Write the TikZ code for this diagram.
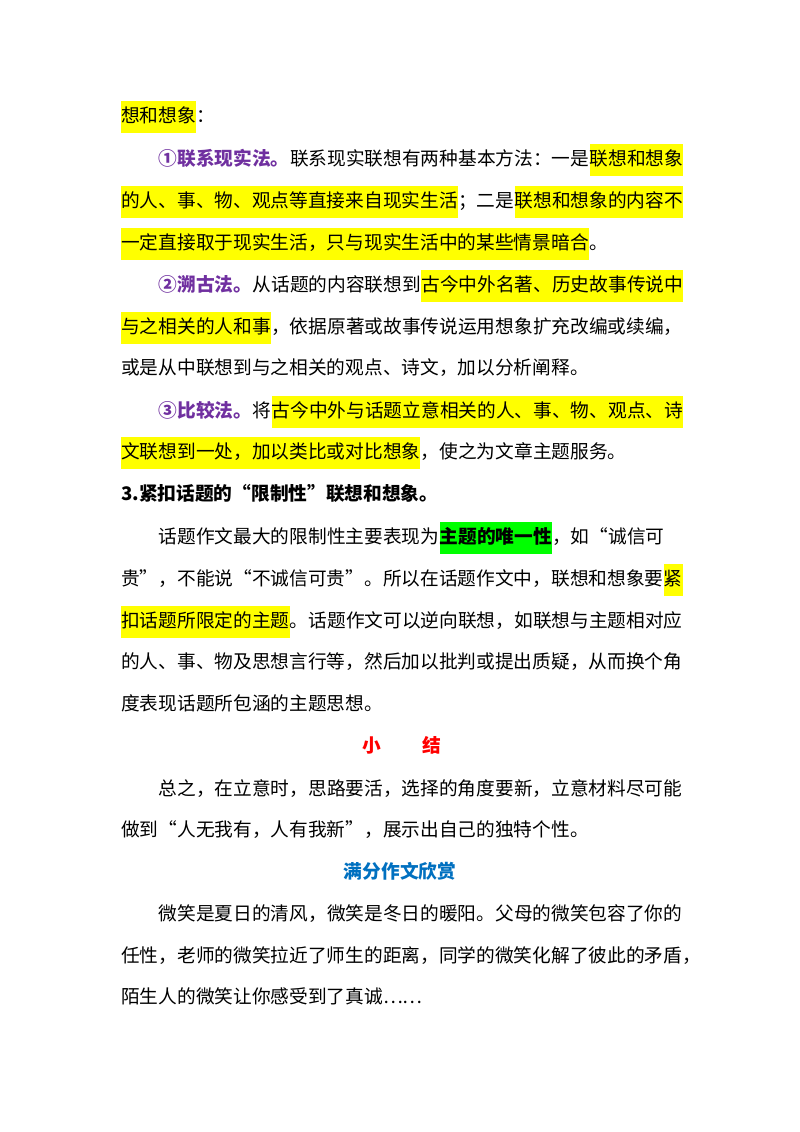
\documentclass[tikz,border=0pt]{standalone}
\usepackage{fontspec}
\newfontfamily\cjk{Noto Sans CJK SC}
\definecolor{hlY}{HTML}{FFFF00}
\definecolor{hlG}{HTML}{00FF00}
\definecolor{pur}{HTML}{7030A0}
\definecolor{ttlblue}{HTML}{0070C0}
\begin{document}
\begin{tikzpicture}[x=1pt,y=1pt,
  ln/.style={anchor=west,inner xsep=0pt,inner ysep=7pt,text height=14pt,text depth=4pt,font=\cjk\fontsize{18.7}{20}\selectfont},
  hl/.style={ln,fill=hlY},
  hg/.style={ln,fill=hlG,font=\cjk\bfseries\fontsize{18.7}{20}\selectfont},
  pb/.style={ln,text=pur,font=\cjk\bfseries\fontsize{18.7}{20}\selectfont},
  bd/.style={ln,font=\cjk\bfseries\fontsize{18.7}{20}\selectfont}]
\useasboundingbox (0,0) rectangle (800,-1132);
\fill[white] (0,0) rectangle (800,-1132);
\def\L{121}\def\I{158.5}
% line 1
\node[hl] (a1) at (\L,-117) {想和想象};
\node[ln] (a2) at (a1.east) {：};
% line 2
\node[pb] (b1) at (\I,-160) {①联系现实法。};
\node[ln] (b2) at (b1.east) {联系现实联想有两种基本方法：一是};
\node[hl] (b3) at (b2.east) {联想和想象};
% line 3
\node[hl] (c1) at (\L,-202) {的人、事、物、观点等直接来自现实生活};
\node[ln] (c2) at (c1.east) {；二是};
\node[hl] (c3) at (c2.east) {联想和想象的内容不};
% line 4
\node[hl] (d1) at (\L,-244) {一定直接取于现实生活，只与现实生活中的某些情景暗合};
\node[ln] (d2) at (d1.east) {。};
% line 5
\node[pb] (e1) at (\I,-286) {②溯古法。};
\node[ln] (e2) at (e1.east) {从话题的内容联想到};
\node[hl] (e3) at (e2.east) {古今中外名著、历史故事传说中};
% line 6
\node[hl] (f1) at (\L,-328) {与之相关的人和事};
\node[ln] (f2) at (f1.east) {，依据原著或故事传说运用想象扩充改编或续编，};
% line 7
\node[ln] (g1) at (\L,-369) {或是从中联想到与之相关的观点、诗文，加以分析阐释。};
% line 8
\node[pb] (h1) at (\I,-412) {③比较法。};
\node[ln] (h2) at (h1.east) {将};
\node[hl] (h3) at (h2.east) {古今中外与话题立意相关的人、事、物、观点、诗};
% line 9
\node[hl] (i1) at (\L,-453) {文联想到一处，加以类比或对比想象};
\node[ln] (i2) at (i1.east) {，使之为文章主题服务。};
% heading
\node[bd] (j1) at (\L,-495) {3.紧扣话题的“限制性”联想和想象。};
% line 11
\node[ln] (k1) at (\I,-538) {话题作文最大的限制性主要表现为};
\node[hg] (k2) at (k1.east) {主题的唯一性};
\node[ln] (k3) at (k2.east) {，如“诚信可};
% line 12
\node[ln] (l1) at (\L,-580) {贵”，不能说“不诚信可贵”。所以在话题作文中，联想和想象要};
\node[hl] (l2) at (l1.east) {紧};
% line 13
\node[hl] (m1) at (\L,-622) {扣话题所限定的主题};
\node[ln] (m2) at (m1.east) {。话题作文可以逆向联想，如联想与主题相对应};
\node[ln] (n1) at (\L,-663) {的人、事、物及思想言行等，然后加以批判或提出质疑，从而换个角};
\node[ln] (o1) at (\L,-705) {度表现话题所包涵的主题思想。};
% summary
\node[bd,anchor=center,text=red] (p1) at (402,-747) {小\hspace{2.2em}结};
\node[ln] (q1) at (\I,-790) {总之，在立意时，思路要活，选择的角度要新，立意材料尽可能};
\node[ln] (r1) at (\L,-831) {做到“人无我有，人有我新”，展示出自己的独特个性。};
\node[bd,anchor=center,text=ttlblue] (s1) at (400,-873) {满分作文欣赏};
\node[ln] (t1) at (\I,-915) {微笑是夏日的清风，微笑是冬日的暖阳。父母的微笑包容了你的};
\node[ln] (u1) at (\L,-957) {任性，老师的微笑拉近了师生的距离，同学的微笑化解了彼此的矛盾，};
\node[ln] (v1) at (\L,-998) {陌生人的微笑让你感受到了真诚……};
\end{tikzpicture}
\end{document}
